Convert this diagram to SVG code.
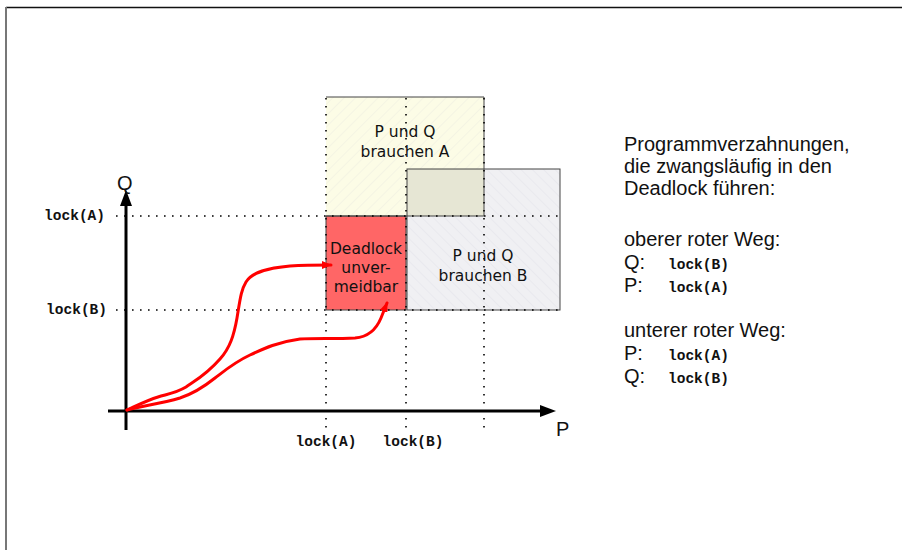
<svg xmlns="http://www.w3.org/2000/svg" width="902" height="550" viewBox="0 0 902 550">
<style>
.dot{stroke:#000;stroke-width:1.6;stroke-dasharray:1.6 6.4;fill:none}
.axis{stroke:#000;stroke-width:3;fill:none}
.curve{stroke:#ff0000;stroke-width:3;fill:none;stroke-linecap:round;stroke-linejoin:round}
.box{stroke:#444;stroke-width:1}
.lbl{font-family:"DejaVu Sans",sans-serif;font-size:15.5px;fill:#111;text-anchor:middle}
.mono{font-family:"Liberation Mono",monospace;font-size:14.5px;font-weight:bold;fill:#111}
.txt{font-family:"Liberation Sans",Arial,sans-serif;font-size:20px;fill:#111}
.ax{font-family:"Liberation Sans",Arial,sans-serif;font-size:20px;fill:#111}
</style>
<defs>
<pattern id="hA" width="8" height="8" patternUnits="userSpaceOnUse" patternTransform="rotate(45)">
<rect width="8" height="8" fill="#fcfce6"/>
<line x1="0" y1="0" x2="0" y2="8" stroke="#ecece0" stroke-width="1"/>
</pattern>
<pattern id="hB" width="8" height="8" patternUnits="userSpaceOnUse" patternTransform="rotate(-45)">
<rect width="8" height="8" fill="#f0f0f3"/>
<line x1="0" y1="0" x2="0" y2="8" stroke="#e2e2ea" stroke-width="1"/>
</pattern>
<marker id="ah" markerWidth="10" markerHeight="8" refX="9" refY="4" orient="auto" markerUnits="userSpaceOnUse">
<path d="M0,0 L10,4 L0,8 Z" fill="#ff0000"/>
</marker>
</defs>
<g id="frame">
<line x1="6" y1="7.5" x2="902" y2="7.5" stroke="#111" stroke-width="1.5"/>
<line x1="6" y1="7" x2="6" y2="550" stroke="#777" stroke-width="2"/>
</g>
<g id="regionA">
<rect x="326" y="97" width="158" height="119" fill="url(#hA)"/>
</g>
<g id="regionB">
<rect x="407" y="169" width="153" height="141" fill="url(#hB)"/>
<rect x="407" y="169" width="77" height="47" fill="#e6e6d4"/>
</g>
<g id="deadlock">
<rect x="326" y="216" width="80" height="94" fill="#ff6666" class="box"/>
</g>
<g id="borders" fill="none" class="box">
<path d="M326,97 H484 V216 H326" fill="none" stroke="#444"/>
<rect x="407" y="169" width="153" height="141" fill="none" stroke="#444"/>
</g>
<g id="gridlines">
<line class="dot" x1="326" y1="98" x2="326" y2="432"/>
<line class="dot" x1="406" y1="98" x2="406" y2="432"/>
<line class="dot" x1="484" y1="98" x2="484" y2="432"/>
<line class="dot" x1="116" y1="216" x2="560" y2="216"/>
<line class="dot" x1="116" y1="310" x2="560" y2="310"/>
</g>
<g id="axes">
<line class="axis" x1="126" y1="430" x2="126" y2="204"/>
<path d="M126,190 L120,206 L132,206 Z" fill="#000"/>
<line class="axis" x1="108" y1="411" x2="542" y2="411"/>
<path d="M556,411 L540,405 L540,417 Z" fill="#000"/>
<text class="ax" x="117" y="190">Q</text>
<text class="ax" x="556" y="436">P</text>
</g>
<g id="connectors">
<path class="curve" marker-end="url(#ah)" d="M127,410 C138,405 148,400 158,397 C168,394 176,393 186,387 C196,380 206,375 220,359 C230,348 234,335 237,318 C240,300 241,290 246,282 C252,272 268,268 290,266 C305,265 318,265 331,265"/>
<path class="curve" marker-end="url(#ah)" d="M127,410 C140,406 160,404 180,398 C195,393 205,386 215,378 C228,368 235,362 250,355 C265,348 278,342 300,339 C315,338 335,339 355,338 C368,337 376,330 381,318 C383,313 385,308 387,303"/>
</g>
<g id="labels">
<text class="lbl" x="405" y="137">P und Q</text>
<text class="lbl" x="405" y="157">brauchen A</text>
<text class="lbl" x="366" y="254">Deadlock</text>
<text class="lbl" x="366" y="273">unver-</text>
<text class="lbl" x="366" y="292">meidbar</text>
<text class="lbl" x="483" y="261">P und Q</text>
<text class="lbl" x="483" y="281">brauchen B</text>
<text class="mono" x="105" y="220" text-anchor="end">lock(A)</text>
<text class="mono" x="107" y="314" text-anchor="end">lock(B)</text>
<text class="mono" x="326" y="446" text-anchor="middle">lock(A)</text>
<text class="mono" x="413" y="446" text-anchor="middle">lock(B)</text>
</g>
<g id="description">
<text class="txt" x="624" y="151">Programmverzahnungen,</text>
<text class="txt" x="624" y="173">die zwangsläufig in den</text>
<text class="txt" x="624" y="195">Deadlock führen:</text>
<text class="txt" x="624" y="246">oberer roter Weg:</text>
<text class="txt" x="624" y="269">Q:</text>
<text class="mono" x="668" y="269">lock(B)</text>
<text class="txt" x="624" y="292">P:</text>
<text class="mono" x="668" y="292">lock(A)</text>
<text class="txt" x="624" y="337">unterer roter Weg:</text>
<text class="txt" x="624" y="360">P:</text>
<text class="mono" x="668" y="360">lock(A)</text>
<text class="txt" x="624" y="383">Q:</text>
<text class="mono" x="668" y="383">lock(B)</text>
</g>
</svg>
